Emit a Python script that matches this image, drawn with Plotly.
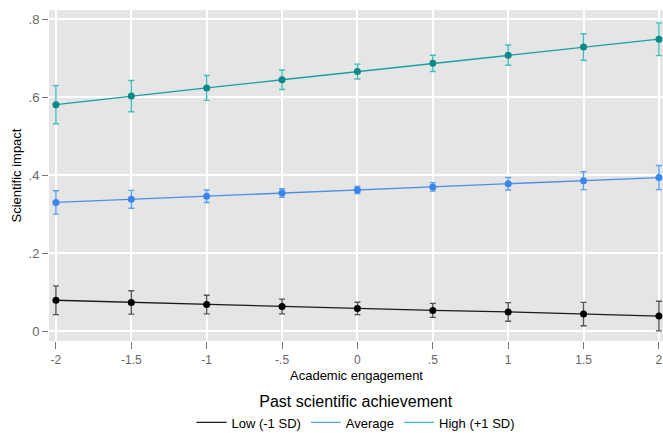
import plotly.graph_objects as go

x_vals = [-2, -1.5, -1, -0.5, 0, 0.5, 1, 1.5, 2]
x_ticktext = ["-2", "-1.5", "-1", "-.5", "0", ".5", "1", "1.5", "2"]
y_tickvals = [0, 0.2, 0.4, 0.6, 0.8]
y_ticktext = ["0", ".2", ".4", ".6", ".8"]

low = [0.079, 0.0735, 0.068, 0.063, 0.058, 0.053, 0.049, 0.0435, 0.0385]
low_err = [0.037, 0.030, 0.024, 0.019, 0.016, 0.018, 0.024, 0.030, 0.038]
avg = [0.330, 0.338, 0.346, 0.354, 0.362, 0.370, 0.378, 0.386, 0.394]
avg_err = [0.030, 0.023, 0.016, 0.011, 0.009, 0.011, 0.016, 0.023, 0.031]
high = [0.581, 0.603, 0.624, 0.645, 0.666, 0.687, 0.708, 0.729, 0.749]
high_err = [0.049, 0.040, 0.032, 0.025, 0.019, 0.021, 0.026, 0.034, 0.042]

series = [
    ("Low (-1 SD)", low, low_err, "#1a1a1a", "#555555", "#000000"),
    ("Average", avg, avg_err, "#4a90e8", "#5aa0f0", "#3a86ec"),
    ("High (+1 SD)", high, high_err, "#1aa0a0", "#40bcbc", "#0c8a8a"),
]

fig = go.Figure()
for name, ys, errs, lc, ec, mc in series:
    fig.add_trace(go.Scatter(
        x=x_vals, y=ys, name=name, mode="lines+markers", showlegend=False,
        line=dict(color=lc, width=1.3),
        marker=dict(color=mc, size=7),
        error_y=dict(type="data", array=errs, visible=True, color=ec,
                     thickness=1.4, width=3),
    ))
for name, ys, errs, lc, ec, mc in series:
    fig.add_trace(go.Scatter(
        x=[None], y=[None], name=name, mode="lines",
        line=dict(color=lc if name == "Low (-1 SD)" else ec, width=1.3),
    ))

fig.update_layout(
    width=663, height=433,
    margin=dict(l=49, r=0, t=10, b=92, autoexpand=False),
    paper_bgcolor="white", plot_bgcolor="#e5e5e5",
    font=dict(family="Liberation Sans, Arial, sans-serif", size=13, color="#000"),
    showlegend=True,
    legend=dict(
        orientation="h", x=0.5, xanchor="center", y=-0.138, yanchor="top",
        title=dict(text="Past scientific achievement", side="top center",
                   font=dict(size=16, color="#000")),
        font=dict(size=13, color="#000"),
        itemwidth=30, tracegroupgap=0,
    ),
    annotations=[dict(
        text="Academic engagement", xref="paper", yref="paper",
        x=0.5, y=-0.103, xanchor="center", yanchor="middle",
        showarrow=False, font=dict(size=13, color="#000"),
    )],
)
fig.update_xaxes(
    range=[-2.046, 2.027], tickvals=x_vals, ticktext=x_ticktext,
    ticks="outside", ticklen=7, tickcolor="#777", tickwidth=1,
    tickfont=dict(color="#666", size=12), ticklabelstandoff=1,
    showgrid=True, gridcolor="white", gridwidth=1.5, zeroline=False,
    showline=False, automargin=False,
)
fig.update_yaxes(
    range=[-0.0256, 0.824], tickvals=y_tickvals, ticktext=y_ticktext,
    ticks="outside", ticklen=6, tickcolor="#777", tickwidth=1,
    tickfont=dict(color="#666", size=13),
    showgrid=True, gridcolor="white", gridwidth=1.5, zeroline=False,
    title=dict(text="Scientific impact", font=dict(size=13, color="#000"), standoff=4),
    showline=False, automargin=False,
)

fig.write_html("out.html", config={"displayModeBar": False},
               post_script="document.body.style.margin='0';")
